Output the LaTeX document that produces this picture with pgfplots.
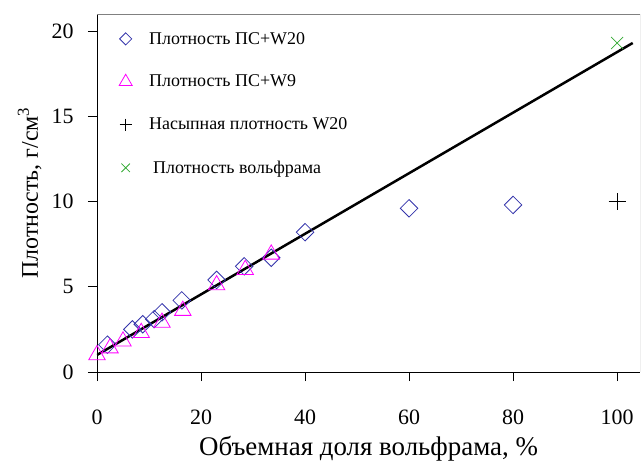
\documentclass[border=0pt]{standalone}
\usepackage{fontspec}
\setmainfont{Liberation Serif}
\usepackage{pgfplots}
\pgfplotsset{compat=1.18}
\definecolor{wblue}{RGB}{51,51,170}
\definecolor{wpink}{RGB}{255,0,255}
\definecolor{wgreen}{RGB}{51,170,51}

\begin{document}
\begin{tikzpicture}
\begin{axis}[
    scale only axis,
    width=543bp,
    height=358bp,
    xmin=0, xmax=104.4,
    ymin=0, ymax=21,
    xtick={0,20,...,100},
    ytick={0,5,...,20},
    axis lines=left,
    axis line style={-, black, line width=1pt},
    tick align=outside,
    major tick length=9bp,
    tick style={black, line width=1pt},
    /pgf/number format/assume math mode=true,
    tick label style={font=\fontsize{22}{22}\selectfont},
    xticklabel style={yshift=-25bp},
    yticklabel style={xshift=-11bp},
    xlabel={Объемная доля вольфрама, \%},
    ylabel={Плотность, г/см\textsuperscript{3}},
    xlabel style={font=\fontsize{27}{27}\selectfont,
        at={(axis description cs:0.5,-0.215)}, anchor=center},
    ylabel style={font=\fontsize{24}{24}\selectfont,
        at={(axis description cs:-0.124,0.5)}, anchor=center},
    legend style={at={(axis description cs:0.035,0.961)}, anchor=north west,
        draw=none, fill=none, font=\fontsize{18}{18}\selectfont,
        row sep=25.5bp},
    legend cell align=left,
]
\addplot[only marks, mark=square, mark size=6.2bp, forget plot,
    mark options={rotate=45, wblue, line width=0.8pt}] coordinates {
    (2,1.6) (6.8,2.5) (8.8,2.8) (11,3.1) (12.5,3.5) (16.3,4.2)
    (23,5.4) (28.3,6.2) (33.5,6.7) (40,8.2) (60,9.6) (80,9.8)
};
\addplot[only marks, mark=triangle, mark size=9.5bp, forget plot,
    mark options={wpink, line width=0.8pt}] coordinates {
    (0,1.0) (2.5,1.4) (5,1.8) (8.5,2.3) (12.5,2.9) (16.5,3.6)
    (23,5.1) (28.5,6.0) (33.5,6.9)
};
\addplot[only marks, mark=+, mark size=8.5bp, forget plot,
    mark options={black, line width=0.8pt}] coordinates {
    (100,10.0)
};
\addplot[only marks, mark=x, mark size=8.5bp, forget plot,
    mark options={wgreen, line width=0.8pt}] coordinates {
    (100,19.3)
};
\addplot[black, line width=2.5pt, no marks, forget plot] coordinates {
    (0,1.0) (103,19.3)
};
\draw[gray, line width=0.8pt] (rel axis cs:0,1) -- (rel axis cs:1,1) -- (rel axis cs:1,0);
\addlegendimage{only marks, mark=square, mark size=4.3bp, mark options={rotate=45, wblue, line width=0.8pt}}
\addlegendimage{only marks, mark=triangle, mark size=7.5bp, mark options={wpink, line width=0.8pt}}
\addlegendimage{only marks, mark=+, mark size=6bp, mark options={black, line width=0.8pt}}
\addlegendimage{only marks, mark=x, mark size=6bp, mark options={wgreen, line width=0.8pt}}
\legend{\hspace{15bp}Плотность ПС+W20, \hspace{15bp}Плотность ПС+W9,
    \hspace{15bp}Насыпная плотность W20, \hspace{19bp}Плотность вольфрама}
\end{axis}
\pgfresetboundingbox
\path ([xshift=-97bp,yshift=-93bp]current axis.south west) rectangle ([xshift=2bp,yshift=14bp]current axis.north east);
\end{tikzpicture}
\end{document}
